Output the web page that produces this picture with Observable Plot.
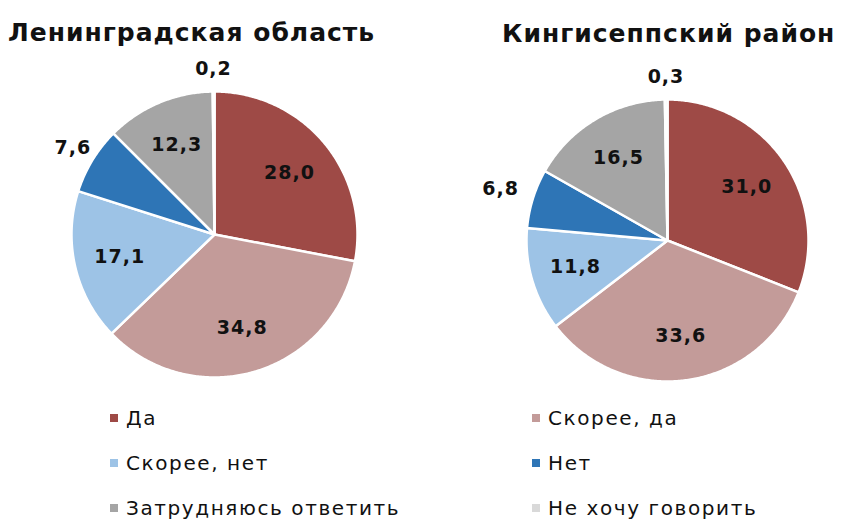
<!DOCTYPE html>
<html><head><meta charset="utf-8">
<script src="https://cdn.jsdelivr.net/npm/d3@7"></script>
<script src="https://cdn.jsdelivr.net/npm/@observablehq/plot@0.6"></script>
<style>
body{margin:0;background:#fff;font-family:"DejaVu Sans",sans-serif;}
#wrap{position:relative;width:842px;height:522px;overflow:hidden;}
.title{position:absolute;font-weight:bold;font-size:25px;letter-spacing:1px;color:#111;white-space:nowrap;}
#chart{position:absolute;left:0;top:50px;}
.leg{position:absolute;font-size:20px;letter-spacing:1.6px;color:#111;white-space:nowrap;line-height:24px;}
.leg span.sw{display:inline-block;width:8px;height:8px;margin-right:8px;vertical-align:middle;position:relative;top:-2px;}
</style></head>
<body><div id="wrap">
<div class="title" id="t1" style="left:8px;top:18px;"></div>
<div class="title" id="t2" style="left:502px;top:19px;"></div>
<div id="chart"></div>
</div>
<script>
const titles = ["Ленинградская область", "Кингисеппский район"];
const categories = ["Да", "Скорее, да", "Скорее, нет", "Нет", "Затрудняюсь ответить", "Не хочу говорить"];
const colors = ["#9E4A46", "#C39B99", "#9DC3E6", "#2E75B6", "#A5A5A5", "#D9D9D9"];
const lenobl = [28.0, 34.8, 17.1, 7.6, 12.3, 0.2];
const kingisepp = [31.0, 33.6, 11.8, 6.8, 16.5, 0.3];
const legendOrder = [[0, 1], [2, 3], [4, 5]];

const W = 842, H = 350;
const pies = [
  {values: lenobl, cx: 214, cy: 184, r: 143},
  {values: kingisepp, cx: 667, cy: 190, r: 141}
];

const features = [];
const labels = [];
const fmt = v => v.toFixed(1).replace(".", ",");
pies.forEach((p, pi) => {
  const arcs = d3.pie().sort(null).value(d => d)(p.values);
  arcs.forEach((a, i) => {
    const steps = Math.max(2, Math.ceil((a.endAngle - a.startAngle) / 0.01));
    const ring = [[p.cx, p.cy]];
    for (let k = 0; k <= steps; k++) {
      const t = a.startAngle + (a.endAngle - a.startAngle) * k / steps;
      ring.push([p.cx + p.r * Math.sin(t), p.cy - p.r * Math.cos(t)]);
    }
    ring.push([p.cx, p.cy]);
    features.push({type: "Feature", properties: {cat: categories[i], pie: pi},
      geometry: {type: "Polygon", coordinates: [ring]}});
    const mid = (a.startAngle + a.endAngle) / 2;
    const f = a.data < 10 ? (pi === 1 && i === 3 ? 1.24 : 1.16) : 0.68;
    labels.push({x: p.cx + p.r * f * Math.sin(mid), y: p.cy - p.r * f * Math.cos(mid), text: fmt(a.data)});
  });
});

const plot = Plot.plot({
  width: W, height: H, margin: 0,
  projection: {type: "identity", domain: {type: "MultiPoint", coordinates: [[0, 0], [W, H]]}, inset: 0},
  color: {domain: categories, range: colors},
  marks: [
    Plot.geo(features, {fill: d => d.properties.cat, stroke: "white", strokeWidth: 2.5, strokeLinejoin: "round"}),
    Plot.text(labels, {x: "x", y: "y", text: "text", fontSize: 19, fontWeight: "bold", fill: "#111",
      fontFamily: "DejaVu Sans"})
  ],
  style: {fontFamily: "DejaVu Sans", background: "white"}
});
plot.querySelectorAll("text").forEach(t => t.setAttribute("letter-spacing", "1px"));
document.getElementById("chart").append(plot);
document.getElementById("t1").textContent = titles[0];
document.getElementById("t2").textContent = titles[1];

const wrap = document.getElementById("wrap");
const colX = [110, 532], rowY = [406, 451, 496];
legendOrder.forEach((row, ri) => row.forEach((ci, cj) => {
  const d = document.createElement("div");
  d.className = "leg";
  d.style.left = colX[cj] + "px";
  d.style.top = rowY[ri] + "px";
  d.innerHTML = `<span class="sw" style="background:${colors[ci]}"></span>`;
  d.appendChild(document.createTextNode(categories[ci]));
  wrap.appendChild(d);
}));
</script></body></html>
